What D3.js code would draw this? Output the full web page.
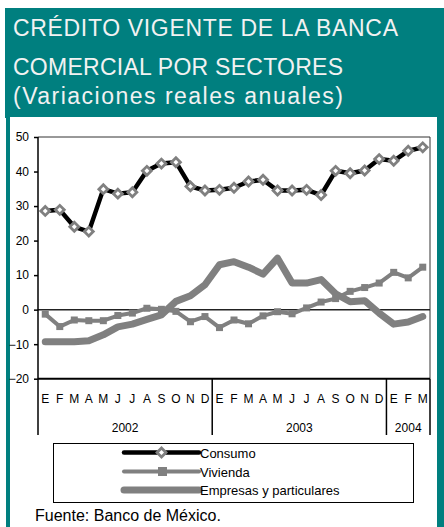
<!DOCTYPE html>
<html>
<head>
<meta charset="utf-8">
<script src="https://cdn.jsdelivr.net/npm/d3@7"></script>
<style>
    body { margin: 0; background: #fff; }
    svg { display: block; font-family: 'Liberation Sans', Arial, sans-serif; }
</style>
</head>
<body>
<div id="chart"></div>
<script>
// Chart data
const titleLines = ['CRÉDITO VIGENTE DE LA BANCA', 'COMERCIAL POR SECTORES', '(Variaciones reales anuales)'];
const monthLabels = ['E','F','M','A','M','J','J','A','S','O','N','D',
                     'E','F','M','A','M','J','J','A','S','O','N','D',
                     'E','F','M'];
const yearLabels = ['2002', '2003', '2004'];
const monthsPerYear = [12, 12, 3];
const yTicks = [-20, -10, 0, 10, 20, 30, 40, 50];
const seriesNames = ['Consumo', 'Vivienda', 'Empresas y particulares'];

const consumo = [28.6, 28.9, 24.0, 22.6, 34.9, 33.6, 34.0, 40.2, 42.3, 42.7, 35.7, 34.5,
                 34.7, 35.3, 37.1, 37.6, 34.5, 34.5, 34.7, 33.2, 40.2, 39.5, 40.3, 43.6,
                 43.1, 46.0, 47.0];
const vivienda = [-1.3, -4.9, -3.0, -3.2, -3.2, -1.7, -1.0, 0.4, 0.1, -0.5, -3.5, -2.0,
                  -5.2, -3.0, -4.1, -1.8, -0.6, -1.2, 0.5, 2.2, 3.2, 5.3, 6.4, 7.7,
                  10.8, 9.2, 12.3];
const empresas = [-9.3, -9.3, -9.3, -9.0, -7.3, -5.0, -4.2, -2.8, -1.5, 2.4, 4.0, 7.2,
                  13.0, 13.9, 12.3, 10.3, 14.9, 7.7, 7.7, 8.7, 4.6, 2.3, 2.6, -1.0,
                  -4.2, -3.6, -2.0];

const teal = '#007f7f';
const gray = '#808080';

class SectorChart {
    constructor(_config) {
        this.config = {
            parentElement: _config.parentElement,
            width: _config.width || 444,
            height: _config.height || 527,
            plot: _config.plot || { left: 38, right: 430, top: 137, bottom: 378.7 }
        };
        this.initVis();
    }

    initVis() {
        const vis = this;

        vis.svg = d3.select(vis.config.parentElement)
            .append('svg')
            .attr('width', vis.config.width)
            .attr('height', vis.config.height);

        // Teal frame + header band
        vis.svg.append('rect')
            .attr('x', 6).attr('y', 8)
            .attr('width', vis.config.width - 6).attr('height', vis.config.height - 8)
            .attr('fill', teal);
        vis.svg.append('rect')
            .attr('x', 5).attr('y', 8)
            .attr('width', 4).attr('height', 110)
            .attr('fill', teal);
        vis.svg.append('rect')
            .attr('x', 10).attr('y', 117)
            .attr('width', 427).attr('height', vis.config.height - 117)
            .attr('fill', '#fff');

        const titleBaselines = [35.5, 75, 104];
        const titleWidths = [385, 330, 330];
        vis.svg.selectAll('.title')
            .data(titleLines)
            .enter().append('text')
            .attr('class', 'title')
            .attr('x', 13)
            .attr('y', (d, i) => titleBaselines[i])
            .attr('textLength', (d, i) => titleWidths[i])
            .attr('lengthAdjust', 'spacing')
            .style('font-size', '23px')
            .style('fill', '#f2f2f2')
            .text(d => d);

        // Scales
        vis.xScale = d3.scaleBand()
            .domain(d3.range(monthLabels.length))
            .range([vis.config.plot.left, vis.config.plot.right]);

        vis.yScale = d3.scaleLinear()
            .domain([d3.min(yTicks), d3.max(yTicks)])
            .range([vis.config.plot.bottom, vis.config.plot.top]);

        vis.updateVis();
    }

    updateVis() {
        const vis = this;
        const p = vis.config.plot;
        const x = i => vis.xScale(i) + vis.xScale.bandwidth() / 2;

        // plot frame (top and right)
        vis.svg.append('path')
            .attr('d', `M${p.left},${p.top}H${p.right}V${p.bottom}`)
            .attr('fill', 'none')
            .attr('stroke', '#333')
            .attr('stroke-width', 1);

        // Y axis
        const yAxis = vis.svg.append('g')
            .attr('class', 'y-axis')
            .attr('transform', `translate(${p.left},0)`)
            .call(d3.axisLeft(vis.yScale).tickValues(yTicks).tickSize(4).tickPadding(5).tickSizeOuter(0));
        yAxis.select('.domain').remove();
        yAxis.selectAll('line').attr('stroke', '#000').attr('stroke-width', 1.5);
        yAxis.selectAll('text')
            .style('font-size', '12px')
            .style('font-family', "'Liberation Sans', Arial, sans-serif")
            .attr('fill', '#000');

        // zero line
        vis.svg.append('line')
            .attr('x1', p.left).attr('x2', p.right)
            .attr('y1', vis.yScale(0)).attr('y2', vis.yScale(0))
            .attr('stroke', '#222').attr('stroke-width', 1.5);

        // bottom axis line at -20
        vis.svg.append('line')
            .attr('x1', p.left).attr('x2', p.right)
            .attr('y1', p.bottom).attr('y2', p.bottom)
            .attr('stroke', '#000').attr('stroke-width', 2);

        // category axis: month letters, year labels and dividers
        const catBottom = 435;
        vis.svg.selectAll('.month')
            .data(monthLabels)
            .enter().append('text')
            .attr('class', 'month')
            .attr('x', (d, i) => x(i))
            .attr('y', 403)
            .attr('text-anchor', 'middle')
            .style('font-size', '12px')
            .text(d => d);

        let start = 0;
        const yearSpans = monthsPerYear.map((n, i) => {
            const s = { label: yearLabels[i], from: start, to: start + n - 1 };
            start += n;
            return s;
        });

        vis.svg.selectAll('.year')
            .data(yearSpans)
            .enter().append('text')
            .attr('class', 'year')
            .attr('x', d => (vis.xScale(d.from) + vis.xScale(d.to) + vis.xScale.bandwidth()) / 2)
            .attr('y', 432)
            .attr('text-anchor', 'middle')
            .style('font-size', '12px')
            .text(d => d.label);

        const dividers = [vis.xScale(0)].concat(yearSpans.map(d => vis.xScale(d.to) + vis.xScale.bandwidth()));
        vis.svg.selectAll('.divider')
            .data(dividers)
            .enter().append('line')
            .attr('class', 'divider')
            .attr('x1', d => d).attr('x2', d => d)
            .attr('y1', (d, i) => i === 0 ? p.top : p.bottom)
            .attr('y2', catBottom)
            .attr('stroke', '#000')
            .attr('stroke-width', 1.5);

        // Lines
        const line = d3.line()
            .x((d, i) => x(i))
            .y(d => vis.yScale(d));

        vis.svg.append('path')
            .datum(empresas)
            .attr('d', line)
            .attr('fill', 'none')
            .attr('stroke', gray)
            .attr('stroke-width', 7)
            .attr('stroke-linejoin', 'round')
            .attr('stroke-linecap', 'round');

        vis.svg.append('path')
            .datum(vivienda)
            .attr('d', line)
            .attr('fill', 'none')
            .attr('stroke', gray)
            .attr('stroke-width', 4)
            .attr('stroke-linejoin', 'round');

        vis.svg.selectAll('.viv-mark')
            .data(vivienda)
            .enter().append('rect')
            .attr('class', 'viv-mark')
            .attr('x', (d, i) => x(i) - 3.5)
            .attr('y', d => vis.yScale(d) - 3.5)
            .attr('width', 7).attr('height', 7)
            .attr('fill', gray);

        vis.svg.append('path')
            .datum(consumo)
            .attr('d', line)
            .attr('fill', 'none')
            .attr('stroke', '#000')
            .attr('stroke-width', 4.5)
            .attr('stroke-linejoin', 'round');

        const diamond = d3.symbol().type(d3.symbolSquare).size(40);
        vis.svg.selectAll('.con-mark')
            .data(consumo)
            .enter().append('path')
            .attr('class', 'con-mark')
            .attr('d', diamond)
            .attr('transform', (d, i) => `translate(${x(i)},${vis.yScale(d)}) rotate(45)`)
            .attr('fill', '#fff')
            .attr('stroke', gray)
            .attr('stroke-width', 2.8);

        // Legend
        vis.svg.append('rect')
            .attr('x', 53.5).attr('y', 443.5)
            .attr('width', 360).attr('height', 59)
            .attr('fill', '#fff')
            .attr('stroke', '#000')
            .attr('stroke-width', 1);

        const legendY = [452.5, 471.5, 490];
        const legendStyles = [
            { stroke: '#000', width: 4.5, mark: 'diamond' },
            { stroke: gray, width: 4, mark: 'square' },
            { stroke: gray, width: 7, mark: null }
        ];
        const legend = vis.svg.selectAll('.legend-item')
            .data(seriesNames)
            .enter().append('g')
            .attr('class', 'legend-item')
            .attr('transform', (d, i) => `translate(0,${legendY[i]})`);

        legend.append('line')
            .attr('x1', 124).attr('x2', 199)
            .attr('stroke', (d, i) => legendStyles[i].stroke)
            .attr('stroke-width', (d, i) => legendStyles[i].width)
            .attr('stroke-linecap', 'round');

        legend.filter((d, i) => legendStyles[i].mark === 'square')
            .append('rect')
            .attr('x', 158).attr('y', -4.5)
            .attr('width', 9).attr('height', 9)
            .attr('fill', gray);

        legend.filter((d, i) => legendStyles[i].mark === 'diamond')
            .append('path')
            .attr('d', diamond)
            .attr('transform', 'translate(161.5,0) rotate(45)')
            .attr('fill', '#fff')
            .attr('stroke', gray)
            .attr('stroke-width', 2.8);

        legend.append('text')
            .attr('x', 200)
            .attr('y', 5)
            .style('font-size', '13px')
            .text(d => d);

        // Source note
        vis.svg.append('text')
            .attr('x', 35)
            .attr('y', 521)
            .style('font-size', '16px')
            .text('Fuente: Banco de México.');
    }
}

const chart = new SectorChart({ parentElement: '#chart' });
</script>
</body>
</html>
